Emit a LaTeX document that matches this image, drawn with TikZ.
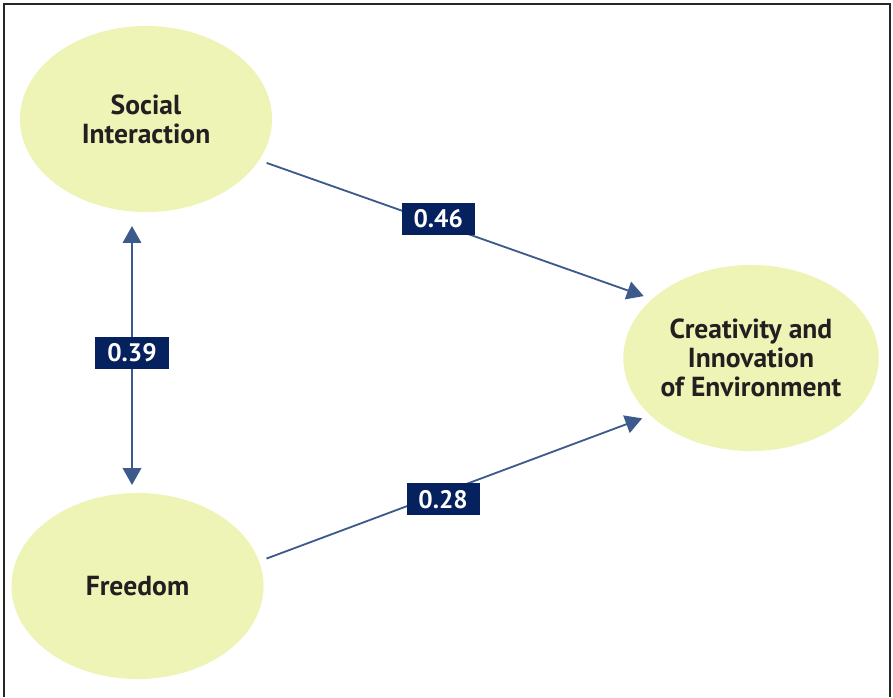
\documentclass[tikz,border=0pt]{standalone}
\usepackage{fontspec}
\setmainfont{PT Sans}
\usepackage{tikz}
\usetikzlibrary{shapes,arrows.meta,positioning,calc}
\definecolor{blobfill}{RGB}{238,243,182}
\definecolor{linkblue}{RGB}{60,90,140}
\definecolor{tagnavy}{RGB}{6,34,94}
\definecolor{inktext}{RGB}{35,31,32}

\begin{document}
\begin{tikzpicture}[x=0.025cm, y=-0.025cm,
    factor/.style={ellipse, fill=blobfill, minimum width=6.3cm, minimum height=4.65cm, inner sep=0pt, outer sep=0.2cm, align=center, text=inktext, font=\fontsize{19.6}{20.6}\selectfont\bfseries},
    link/.style={draw=linkblue, line width=1.3pt, -{Triangle[length=0.42cm, width=0.46cm]}},
    coef/.style={fill=tagnavy, text=white, minimum width=1.825cm, minimum height=0.8cm, inner sep=0pt, font=\fontsize{18}{20}\selectfont\bfseries}]
    \useasboundingbox (0,0) rectangle (893,697);
    \draw [line width=1.2pt, black!85] (4,697) -- (4,4) -- (890,4) -- (890,697);

    % Factors
    \node [factor] (social) at (146,119) {Social\\Interaction};
    \node [factor] (free) at (137.5,586) {Freedom};
    \node [factor] (creat) at (751,358) {Creativity and\\Innovation\\of Environment};

    % Paths with coefficients
    \draw [link] (social.-20) -- node [coef, pos=0.455, yshift=0.12cm] {0.46} (creat.150);
    \draw [link] (free.12) -- node [coef, pos=0.47, yshift=-0.17cm] {0.28} (creat.209);
    \draw [link, {Triangle[length=0.42cm, width=0.46cm]}-{Triangle[length=0.42cm, width=0.46cm]}, shorten <=0.15cm]
        ([xshift=-0.35cm]social.south) -- node [coef] {0.39} ([xshift=-0.35cm]social.south |- free.north);
\end{tikzpicture}
\end{document}
